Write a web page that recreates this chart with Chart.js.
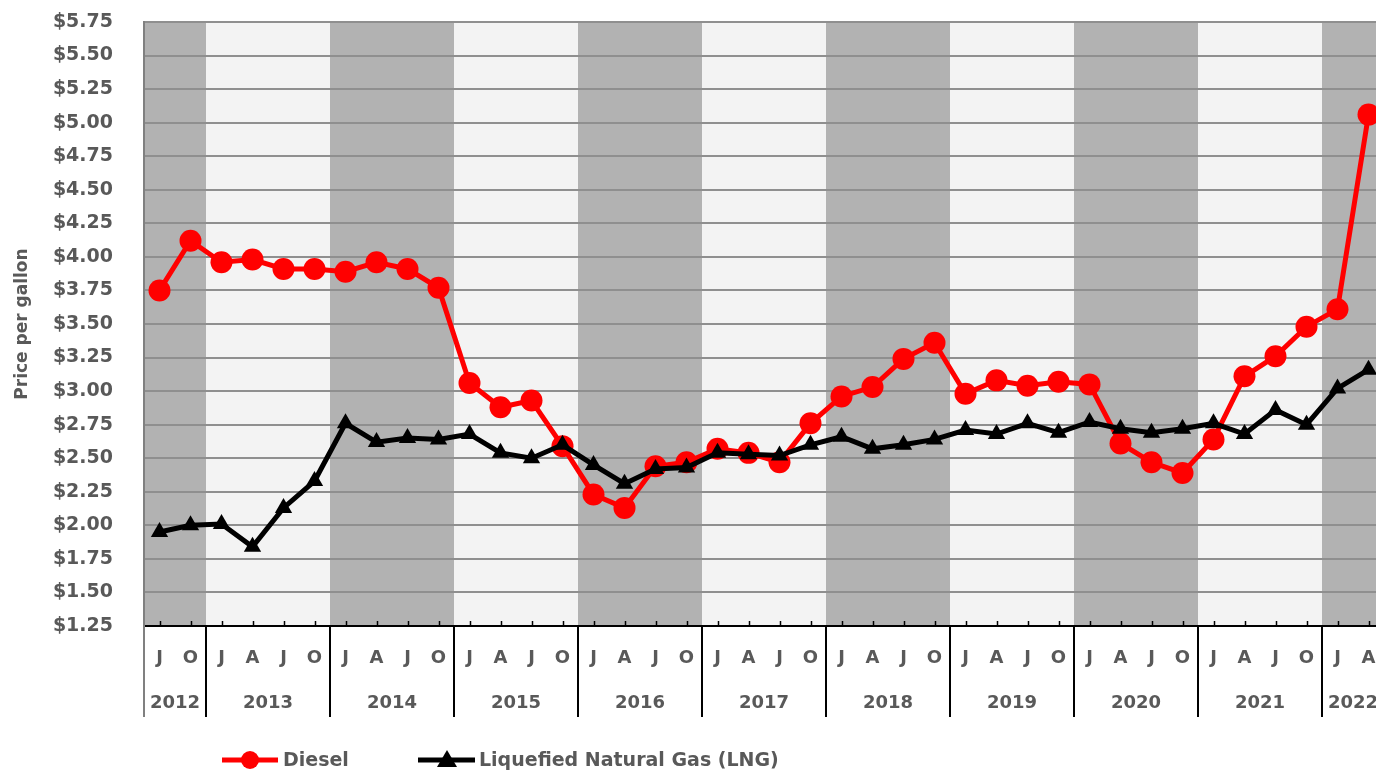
<!DOCTYPE html>
<html>
<head>
<meta charset="utf-8">
<script src="https://cdn.jsdelivr.net/npm/chart.js@4/dist/chart.umd.min.js"></script>
<style>
html,body{margin:0;padding:0;overflow:hidden;background:#fff;}
#wrap{position:absolute;left:0;top:0;width:1400px;height:773px;}
</style>
</head>
<body>
<div id="wrap"><canvas id="c" width="1400" height="773"></canvas></div>
<script>
const quarterLabels = ['J','O',
  'J','A','J','O','J','A','J','O','J','A','J','O','J','A','J','O','J','A','J','O',
  'J','A','J','O','J','A','J','O','J','A','J','O','J','A','J','O',
  'J','A'];
const years = ['2012','2013','2014','2015','2016','2017','2018','2019','2020','2021','2022'];
const quartersPerYear = [2,4,4,4,4,4,4,4,4,4,2];
const dieselPrices = [3.75,4.12,
  3.96,3.98,3.91,3.91,
  3.89,3.96,3.91,3.77,
  3.06,2.88,2.93,2.59,
  2.23,2.13,2.44,2.47,
  2.57,2.54,2.47,2.76,
  2.96,3.03,3.24,3.36,
  2.98,3.08,3.04,3.07,
  3.05,2.61,2.47,2.39,
  2.64,3.11,3.26,3.48,
  3.61,5.06];
const lngPrices = [1.95,2.00,
  2.01,1.84,2.13,2.33,
  2.76,2.62,2.65,2.64,
  2.68,2.54,2.50,2.60,
  2.45,2.31,2.42,2.43,
  2.54,2.53,2.52,2.60,
  2.66,2.57,2.60,2.64,
  2.71,2.68,2.76,2.69,
  2.77,2.72,2.69,2.72,
  2.76,2.68,2.86,2.75,
  3.02,3.16];
const yTickValues = [1.25,1.50,1.75,2.00,2.25,2.50,2.75,3.00,3.25,3.50,3.75,4.00,4.25,4.50,4.75,5.00,5.25,5.50,5.75];

const FONT = '"DejaVu Sans", sans-serif';
const TXT = '#595959';
Chart.defaults.font.family = FONT;

const decor = {
  id: 'decor',
  beforeDraw(chart) {
    const {ctx, chartArea: a, scales: {x}} = chart;
    const w = x.getPixelForValue(1) - x.getPixelForValue(0);
    let idx = 0;
    ctx.save();
    years.forEach((y, i) => {
      const n = quartersPerYear[i];
      const x0 = x.getPixelForValue(idx) - w / 2;
      const x1 = x.getPixelForValue(idx + n - 1) + w / 2;
      ctx.fillStyle = i % 2 === 0 ? '#b2b2b2' : '#f3f3f3';
      ctx.fillRect(x0, a.top, x1 - x0, a.bottom - a.top);
      idx += n;
    });
    ctx.restore();
  },
  afterDraw(chart) {
    const {ctx, chartArea: a, scales: {x}} = chart;
    const w = x.getPixelForValue(1) - x.getPixelForValue(0);
    ctx.save();
    ctx.strokeStyle = '#000';
    ctx.lineWidth = 1.5;
    for (let i = 0; i < quarterLabels.length; i++) {
      const px = Math.round(x.getPixelForValue(i)) + 0.5;
      ctx.beginPath();
      ctx.moveTo(px, a.bottom - 5);
      ctx.lineTo(px, a.bottom);
      ctx.stroke();
    }
    ctx.strokeStyle = '#808080';
    ctx.lineWidth = 2;
    ctx.beginPath();
    ctx.moveTo(a.left, a.top);
    ctx.lineTo(a.left, 717);
    ctx.stroke();
    let idx = 0;
    ctx.font = 'bold 18px ' + FONT;
    ctx.fillStyle = TXT;
    ctx.textAlign = 'center';
    ctx.textBaseline = 'middle';
    years.forEach((y, i) => {
      const n = quartersPerYear[i];
      const x0 = x.getPixelForValue(idx) - w / 2;
      const x1 = x.getPixelForValue(idx + n - 1) + w / 2;
      if (i > 0) {
        ctx.strokeStyle = '#000';
        ctx.lineWidth = 2;
        ctx.beginPath();
        ctx.moveTo(Math.round(x0), a.bottom);
        ctx.lineTo(Math.round(x0), 717);
        ctx.stroke();
      }
      ctx.fillText(y, (x0 + x1) / 2, 703);
      idx += n;
    });
    const ly = 760;
    ctx.lineWidth = 5;
    ctx.strokeStyle = '#ff0000';
    ctx.beginPath(); ctx.moveTo(222, ly); ctx.lineTo(278, ly); ctx.stroke();
    ctx.fillStyle = '#ff0000';
    ctx.beginPath(); ctx.arc(250, ly, 9, 0, Math.PI * 2); ctx.fill();
    ctx.strokeStyle = '#000';
    ctx.beginPath(); ctx.moveTo(418, ly); ctx.lineTo(475, ly); ctx.stroke();
    ctx.fillStyle = '#000';
    ctx.beginPath(); ctx.moveTo(447, ly - 10); ctx.lineTo(457, ly + 7); ctx.lineTo(437, ly + 7); ctx.closePath(); ctx.fill();
    ctx.fillStyle = TXT;
    ctx.textAlign = 'left';
    ctx.font = 'bold 19px ' + FONT;
    ctx.fillText('Diesel', 283, ly + 1);
    ctx.fillText('Liquefied Natural Gas (LNG)', 479, ly + 1);
    ctx.restore();
  }
};

const chart = new Chart(document.getElementById('c'), {
  type: 'line',
  data: {
    labels: quarterLabels,
    datasets: [
      {
        label: 'Diesel',
        data: dieselPrices,
        borderColor: '#ff0000',
        backgroundColor: '#ff0000',
        borderWidth: 5,
        pointStyle: 'circle',
        pointRadius: 11,
        pointHoverRadius: 11,
        pointBorderWidth: 0,
        tension: 0,
        order: 2
      },
      {
        label: 'Liquefied Natural Gas (LNG)',
        data: lngPrices,
        borderColor: '#000000',
        backgroundColor: '#000000',
        borderWidth: 5,
        pointStyle: 'triangle',
        pointRadius: 10,
        pointHoverRadius: 10,
        pointBorderWidth: 0,
        tension: 0,
        order: 1
      }
    ]
  },
  options: {
    responsive: false,
    animation: false,
    layout: { autoPadding: false, padding: { left: 0, right: 16, top: 22, bottom: 0 } },
    plugins: { legend: { display: false }, tooltip: { enabled: false } },
    scales: {
      x: {
        type: 'category',
        offset: true,
        afterFit(s) { s.height = 147; s.paddingLeft = 0; s.paddingRight = 0; },
        grid: { display: false, drawTicks: false },
        border: { color: '#000', width: 2 },
        ticks: {
          autoSkip: false, maxRotation: 0, minRotation: 0,
          padding: 22,
          color: TXT,
          font: { family: FONT, size: 18, weight: 'bold' }
        }
      },
      y: {
        min: 1.25, max: 5.75,
        afterFit(s) { s.width = 144; s.paddingTop = 0; s.paddingBottom = 0; },
        afterBuildTicks(s) { s.ticks = yTickValues.map(v => ({ value: v })); },
        grid: { color: '#8f8f8f', lineWidth: 2, drawTicks: false },
        border: { color: '#808080', width: 2 },
        title: {
          display: true,
          text: 'Price per gallon',
          color: TXT,
          font: { family: FONT, size: 17, weight: 'bold' },
          padding: { top: 12, bottom: 0 }
        },
        ticks: {
          padding: 31,
          color: TXT,
          font: { family: FONT, size: 19, weight: 'bold' },
          callback: v => '$' + Number(v).toFixed(2)
        }
      }
    }
  },
  plugins: [decor]
});
</script>
</body>
</html>
